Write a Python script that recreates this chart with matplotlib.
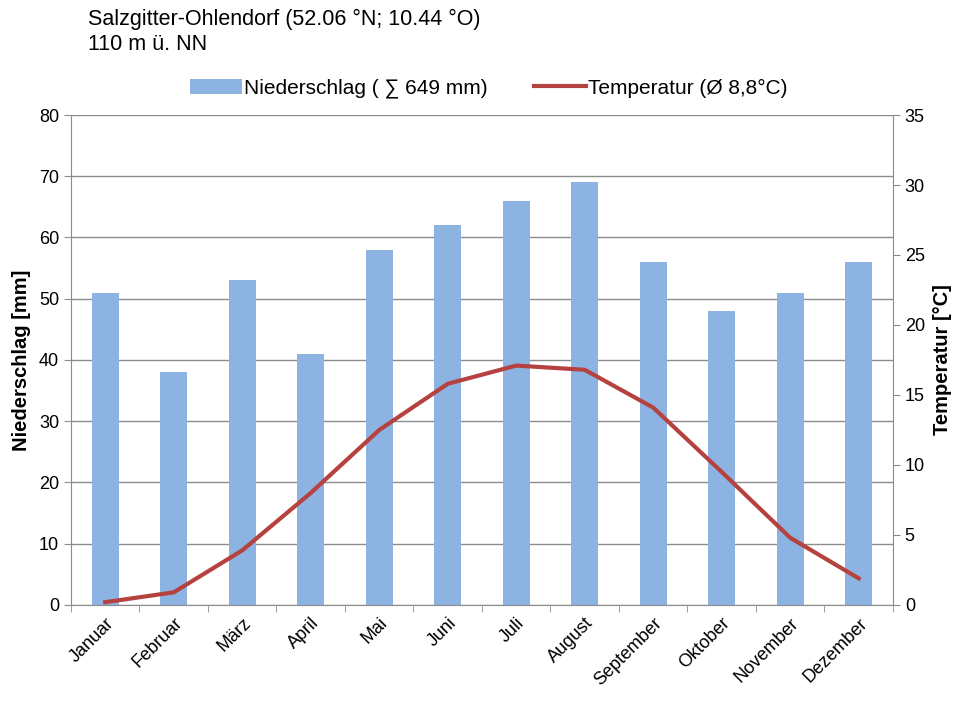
import matplotlib.pyplot as plt
import numpy as np

plt.rcParams['font.family'] = ['Liberation Sans', 'DejaVu Sans']

months = ['Januar', 'Februar', 'März', 'April', 'Mai', 'Juni', 'Juli',
          'August', 'September', 'Oktober', 'November', 'Dezember']
niederschlag = [51, 38, 53, 41, 58, 62, 66, 69, 56, 48, 51, 56]
temperatur = [0.2, 0.9, 3.9, 8.0, 12.5, 15.8, 17.1, 16.8, 14.1, 9.5, 4.8, 1.9]

bar_color = '#8DB3E2'
line_color = '#B5423F'

fig = plt.figure(figsize=(9.68, 7.06), dpi=100)
ax = fig.add_axes([0.0733, 0.1431, 0.8492, 0.694])
x = np.arange(len(months))

bars = ax.bar(x, niederschlag, width=0.4, color=bar_color, zorder=2)
ax.set_xlim(-0.5, len(months) - 0.5)
ax.set_ylim(0, 80)
ax.set_yticks(range(0, 81, 10))
ax.grid(axis='y', color='#8c8c8c', linewidth=1, zorder=0)
ax.set_axisbelow(True)

ax.set_xticks(x)
ax.set_xticklabels(months, rotation=45, ha='right', rotation_mode='anchor',
                   fontsize=13)
ax.tick_params(axis='x', length=0, pad=7)
ax.set_xticks(np.arange(-0.5, len(months)), minor=True)
ax.tick_params(axis='x', which='minor', length=5, color='#8c8c8c')
ax.tick_params(axis='y', labelsize=13, length=5, color='#8c8c8c')
ax.set_ylabel('Niederschlag [mm]', fontsize=14.5, fontweight='bold', labelpad=6)

for s in ['top', 'right']:
    ax.spines[s].set_visible(False)
for s in ['left', 'bottom']:
    ax.spines[s].set_color('#8c8c8c')

ax2 = ax.twinx()
line, = ax2.plot(x, temperatur, color=line_color, linewidth=3, zorder=3)
ax2.set_ylim(0, 35)
ax2.set_yticks(range(0, 36, 5))
ax2.tick_params(axis='y', labelsize=13, length=5, color='#8c8c8c')
ax2.set_ylabel('Temperatur [°C]', fontsize=14.5, fontweight='bold', labelpad=6)
for s in ['top', 'left', 'bottom']:
    ax2.spines[s].set_visible(False)
ax2.spines['right'].set_color('#8c8c8c')

fig.text(0.091, 0.988, 'Salzgitter-Ohlendorf (52.06 °N; 10.44 °O)\n110 m ü. NN',
         fontsize=15.5, va='top', ha='left', linespacing=1.25)

fig.legend([bars, line], ['Niederschlag ( ∑ 649 mm)', 'Temperatur (Ø 8,8°C)'],
           loc='center', bbox_to_anchor=(0.505, 0.875), ncol=2, frameon=False,
           fontsize=15, handlelength=2.5, handletextpad=0.1, columnspacing=2.2)

fig.savefig('out.png', dpi=100)
